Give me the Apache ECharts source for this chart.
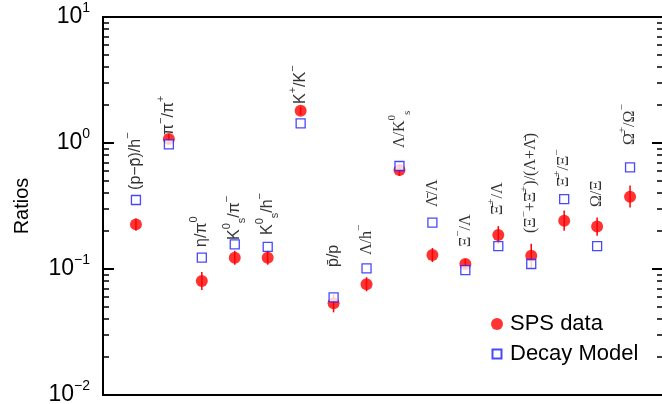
<!DOCTYPE html>
<html>
<head>
<meta charset="utf-8">
<script src="https://cdn.jsdelivr.net/npm/echarts@6/dist/echarts.min.js"></script>
<style>html,body{margin:0;padding:0;background:#fff;}#c{width:662px;height:404px;}</style>
</head>
<body>
<div id="c"></div>
<script>
// ---- data ----
const categories = [
  '{n|(p−p\u0304)/h}{u|−}',
  '{n|π}{u|−}{n|/π}{u|+}',
  '{n|η/π}{u|0}',
  '{n|K}{u|0}{d|s}{n|/π}{u|−}',
  '{n|K}{u|0}{d|s}{n|/h}{u|−}',
  '{n|K}{u|+}{n|/K}{u|−}',
  '{n|p\u0304/p}',
  '{N|Λ/h}{U|−}',
  '{N|Λ/K}{U|0}{D|s}',
  '{N|Λ\u0304/Λ}',
  '{N|Ξ}{U|−}{N|/Λ}',
  '{N|Ξ\u0304}{U|+}{N|/Λ}',
  '{N|(Ξ}{U|−}{N|+Ξ\u0304}{U|+}{N|)/(Λ+Λ\u0304)}',
  '{N|Ξ\u0304}{U|+}{N|/Ξ}{U|−}',
  '{N|Ω/Ξ}',
  '{N|Ω\u0304}{U|+}{N|/Ω}{U|−}'
];
const xPos = [1,2,3,4,5,6,7,8,9,10,11,12,13,14,15,16];
const spsData    = [0.226, 1.076, 0.0803, 0.123, 0.123, 1.80, 0.0534, 0.0756, 0.610, 0.129, 0.1096, 0.186, 0.1276, 0.242, 0.217, 0.375];
const spsErrLow  = [0.2025, 0.982, 0.0681, 0.1082, 0.1082, 1.673, 0.0453, 0.0665, 0.547, 0.1135, 0.100, 0.158, 0.1025, 0.2015, 0.184, 0.307];
const spsErrHigh = [0.252, 1.179, 0.0947, 0.1399, 0.1399, 1.937, 0.0630, 0.0860, 0.681, 0.1467, 0.120, 0.219, 0.1589, 0.2906, 0.256, 0.459];
const modelData  = [0.353, 0.976, 0.123, 0.157, 0.150, 1.43, 0.0596, 0.101, 0.657, 0.233, 0.098, 0.152, 0.1096, 0.359, 0.152, 0.641];
const labelAnchor = [0.424, 1.157, 0.1496, 0.170, 0.186, 2.04, 0.1037, 0.129, 0.913, 0.310, 0.1496, 0.268, 0.193, 0.448, 0.310, 0.964];
const majorTicks = [0.01, 0.1, 1, 10];
const minorTicks = [];
for (let d = 0; d < 3; d++) for (let k = 2; k <= 9; k++) minorTicks.push(+(k * majorTicks[d]).toPrecision(3));

// ---- chart ----
const SANS = 'Liberation Sans';
const SERIF = 'Liberation Serif';
const chart = echarts.init(document.getElementById('c'), null, {renderer: 'canvas'});

function yAxisDef(pos, ticks, len, width, withLabels) {
  return {
    type: 'log', logBase: 10, min: 0.01, max: 10, position: pos,
    axisLine: {show: false},
    splitLine: {show: false},
    minorTick: {show: false},
    axisTick: {show: true, inside: true, length: len, customValues: ticks,
      lineStyle: {color: '#000', width: width}},
    axisLabel: withLabels ? {
      show: true, margin: 13, customValues: majorTicks,
      formatter: function (v) {
        const e = Math.round(Math.log10(v));
        return '{b|10}{s|' + (e < 0 ? '−' + (-e) : e) + '}';
      },
      rich: {
        b: {fontFamily: SANS, fontSize: 23, lineHeight: 32, color: '#000'},
        s: {fontFamily: SANS, fontSize: 14, lineHeight: 14, verticalAlign: 'top', color: '#000'}
      }
    } : {show: false},
    name: withLabels ? 'Ratios' : '',
    nameLocation: 'middle', nameGap: 71, nameRotate: 90,
    nameTextStyle: {fontFamily: SANS, fontSize: 20, color: '#000'}
  };
}

const option = {
  backgroundColor: '#fff',
  animation: false,
  grid: {left: 103, top: 17, width: 560, height: 378, show: true,
    containLabel: false, outerBoundsMode: 'none',
    borderColor: '#000', borderWidth: 2, backgroundColor: 'transparent'},
  xAxis: {type: 'value', min: 0, max: 17, show: false},
  yAxis: [
    yAxisDef('left', majorTicks, 11, 2, true),
    yAxisDef('left', minorTicks, 6, 1.5, false),
    yAxisDef('right', majorTicks, 11, 2, false),
    yAxisDef('right', minorTicks, 6, 1.5, false)
  ],
  legend: {
    orient: 'vertical', left: 485, top: 307,
    itemWidth: 12, itemHeight: 12, itemGap: 6,
    textStyle: {fontFamily: SANS, fontSize: 22, lineHeight: 24, color: '#000', padding: [0, 0, 0, 2]},
    data: [
      {name: 'SPS data', icon: 'circle'},
      {name: 'Decay Model', icon: 'path://M0,0L0.001,0M12,12L12.001,12M1.5,1.5L10.5,1.5L10.5,10.5L1.5,10.5Z'}
    ]
  },
  series: [
    {
      type: 'custom', name: 'err', z: 1, silent: true,
      renderItem: function (params, api) {
        const x = api.value(0);
        const p1 = api.coord([x, api.value(1)]);
        const p2 = api.coord([x, api.value(2)]);
        return {type: 'line', shape: {x1: p1[0], y1: p1[1], x2: p2[0], y2: p2[1]},
          style: {stroke: '#ff0000', lineWidth: 1.5}};
      },
      data: xPos.map((x, i) => [x, spsErrLow[i], spsErrHigh[i]])
    },
    {
      type: 'scatter', name: 'SPS data', z: 2, symbol: 'circle', symbolSize: 12,
      itemStyle: {color: '#ff0000'},
      data: xPos.map((x, i) => [x, spsData[i]])
    },
    {
      type: 'scatter', name: 'Decay Model', z: 3, symbol: 'rect', symbolSize: 9,
      itemStyle: {color: '#ffffff', borderColor: '#1a1aff', borderWidth: 1.3},
      data: xPos.map((x, i) => [x, modelData[i]])
    },
    {
      type: 'scatter', name: 'labels', z: 4, symbolSize: 1, silent: true,
      itemStyle: {color: 'rgba(0,0,0,0)'},
      label: {
        show: true, position: 'inside', rotate: 90, align: 'left', verticalAlign: 'middle',
        formatter: function (p) { return categories[p.dataIndex]; },
        rich: {
          n: {fontFamily: SANS, fontSize: 16, lineHeight: 26, color: '#000'},
          u: {fontFamily: SANS, fontSize: 11, lineHeight: 12, verticalAlign: 'top', color: '#000'},
          d: {fontFamily: SANS, fontSize: 11, lineHeight: 12, verticalAlign: 'bottom', color: '#000'},
          N: {fontFamily: SERIF, fontSize: 16, lineHeight: 26, color: '#000'},
          U: {fontFamily: SERIF, fontSize: 11, lineHeight: 12, verticalAlign: 'top', color: '#000'},
          D: {fontFamily: SERIF, fontSize: 11, lineHeight: 12, verticalAlign: 'bottom', color: '#000'}
        }
      },
      data: xPos.map((x, i) => [x, labelAnchor[i]])
    }
  ]
};
chart.setOption(option);
</script>
</body>
</html>
